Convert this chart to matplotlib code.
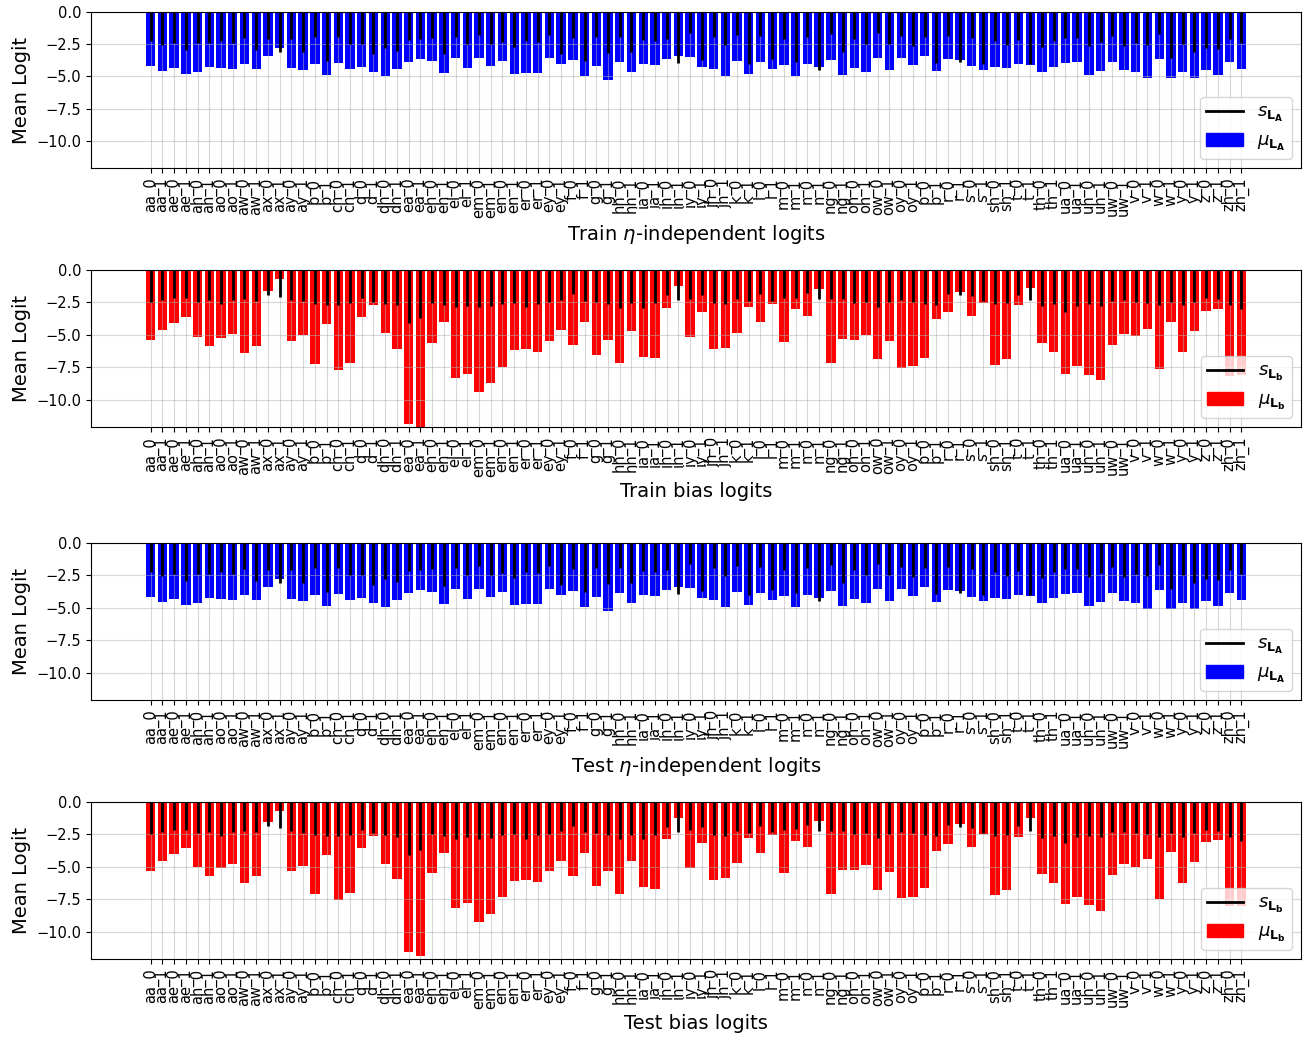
#!/usr/bin/env python3
# plot_logits.py

import matplotlib
matplotlib.use("Agg")
import matplotlib.pyplot as plt
from matplotlib.lines import Line2D
from matplotlib.patches import Patch

phones = ["aa", "ae", "ah", "ao", "aw", "ax", "ay", "b", "ch", "d", "dh", "ea",
          "eh", "el", "em", "en", "er", "ey", "f", "g", "hh", "ia", "ih", "iy",
          "jh", "k", "l", "m", "n", "ng", "oh", "ow", "oy", "p", "r", "s", "sh",
          "t", "th", "ua", "uh", "uw", "v", "w", "y", "z", "zh"]
labels = [p + "_" + k for p in phones for k in ("0", "1")]

# eta-independent logits (train)
train_a_mu = [-4.16, -4.55, -4.34, -4.78, -4.63, -4.24, -4.34, -4.39, -4.01, -4.39,
              -3.39, -2.76, -4.32, -4.47, -4.01, -4.86, -3.93, -4.39, -4.24, -4.63,
              -4.94, -4.39, -3.85, -3.62, -3.77, -4.70, -3.54, -4.32, -3.54, -4.16,
              -3.77, -4.78, -4.70, -4.70, -3.54, -4.01, -3.70, -4.94, -4.16, -5.25,
              -3.85, -4.63, -4.01, -4.08, -3.62, -3.39, -3.46, -4.24, -4.39, -4.94,
              -3.77, -4.78, -3.85, -4.39, -4.08, -4.94, -4.01, -4.24, -3.70, -4.86,
              -4.32, -4.63, -3.54, -4.47, -3.54, -4.08, -3.39, -4.55, -3.62, -3.70,
              -4.16, -4.47, -4.24, -4.32, -4.01, -4.08, -4.63, -4.24, -3.93, -3.85,
              -4.86, -4.55, -3.85, -4.47, -4.63, -5.09, -3.62, -5.09, -4.63, -5.09,
              -4.47, -4.86, -3.85, -4.39]
train_a_s = [2.22, 2.53, 2.38, 2.92, 2.40, 2.38, 2.22, 2.40, 2.02, 2.95,
             2.12, 3.07, 2.07, 3.07, 1.91, 3.77, 1.91, 2.48, 2.45, 3.23,
             2.76, 3.00, 2.14, 2.07, 1.99, 3.28, 1.94, 2.45, 1.78, 2.48,
             2.30, 2.69, 2.22, 2.30, 1.76, 3.23, 2.02, 3.80, 1.91, 3.15,
             1.91, 3.07, 2.17, 2.22, 2.09, 3.93, 1.60, 3.70, 1.94, 2.53,
             1.76, 4.01, 1.83, 3.62, 2.07, 3.85, 1.91, 4.47, 1.73, 3.07,
             2.09, 2.48, 1.60, 2.45, 1.83, 2.61, 1.91, 3.93, 1.83, 3.88,
             2.04, 4.01, 2.22, 2.53, 2.14, 4.01, 2.69, 2.25, 1.99, 1.99,
             2.61, 2.30, 1.83, 2.61, 2.38, 2.53, 1.68, 3.54, 2.48, 3.07,
             2.76, 2.84, 2.07, 2.38]

# bias logits (train)
train_b_mu = [-5.42, -4.65, -4.11, -3.65, -5.19, -5.89, -5.27, -4.96, -6.43, -5.89,
              -1.65, -0.72, -5.50, -5.01, -7.28, -4.19, -7.74, -7.20, -3.65, -2.72,
              -4.88, -6.12, -11.83, -12.10, -5.66, -4.04, -8.35, -8.05, -9.43, -8.74,
              -7.51, -6.20, -6.12, -6.35, -5.50, -4.65, -5.81, -4.04, -6.58, -5.42,
              -7.20, -4.73, -6.74, -6.81, -2.96, -1.26, -5.19, -3.26, -6.12, -6.04,
              -4.88, -2.88, -4.04, -2.65, -5.58, -3.03, -3.57, -1.49, -7.20, -5.35,
              -5.42, -5.01, -6.89, -5.50, -7.58, -7.43, -6.81, -3.80, -3.26, -1.70,
              -3.57, -2.54, -7.35, -6.89, -2.72, -1.41, -5.66, -6.35, -8.05, -7.43,
              -8.12, -8.51, -5.81, -4.96, -5.12, -4.58, -7.66, -4.04, -6.35, -4.73,
              -3.19, -3.03, -8.20, -8.10]
train_b_s = [2.47, 2.34, 2.16, 2.19, 2.47, 2.34, 2.62, 2.34, 2.24, 2.37,
             1.93, 2.08, 2.31, 2.42, 2.65, 2.72, 2.67, 2.57, 2.19, 2.47,
             2.65, 2.72, 4.11, 3.73, 2.54, 2.70, 2.88, 2.75, 2.88, 2.80,
             2.60, 2.52, 2.88, 2.60, 2.49, 2.29, 1.85, 2.37, 2.47, 2.65,
             2.93, 2.57, 2.96, 2.57, 1.95, 2.34, 2.24, 1.95, 2.52, 2.65,
             2.24, 2.42, 1.88, 2.42, 2.19, 2.19, 1.77, 2.26, 2.26, 2.26,
             2.54, 2.47, 2.83, 2.47, 2.31, 2.47, 2.62, 2.67, 1.85, 1.95,
             2.03, 2.42, 2.65, 2.57, 1.90, 2.31, 2.78, 2.65, 3.24, 2.78,
             2.65, 2.80, 2.42, 2.31, 2.44, 2.52, 2.72, 2.47, 2.72, 2.47,
             2.16, 2.24, 2.70, 3.01]

# eta-independent logits (test)
test_a_mu = [-4.16, -4.55, -4.34, -4.78, -4.63, -4.24, -4.34, -4.39, -4.01, -4.39,
             -3.39, -2.76, -4.32, -4.47, -4.01, -4.86, -3.93, -4.39, -4.24, -4.63,
             -4.94, -4.39, -3.85, -3.62, -3.77, -4.70, -3.54, -4.32, -3.54, -4.16,
             -3.77, -4.78, -4.70, -4.70, -3.54, -4.01, -3.70, -4.94, -4.16, -5.25,
             -3.85, -4.63, -4.01, -4.08, -3.62, -3.39, -3.46, -4.24, -4.39, -4.94,
             -3.77, -4.78, -3.85, -4.39, -4.08, -4.94, -4.01, -4.24, -3.70, -4.86,
             -4.32, -4.63, -3.54, -4.47, -3.54, -4.08, -3.39, -4.55, -3.62, -3.70,
             -4.16, -4.47, -4.24, -4.32, -4.01, -4.08, -4.63, -4.24, -3.93, -3.85,
             -4.86, -4.55, -3.85, -4.47, -4.63, -5.09, -3.62, -5.09, -4.63, -5.09,
             -4.47, -4.86, -3.85, -4.39]
test_a_s = [2.22, 2.53, 2.38, 2.92, 2.40, 2.38, 2.22, 2.40, 2.02, 2.95,
            2.12, 3.07, 2.07, 3.07, 1.91, 3.77, 1.91, 2.48, 2.45, 3.23,
            2.76, 3.00, 2.14, 2.07, 1.99, 3.28, 1.94, 2.45, 1.78, 2.48,
            2.30, 2.69, 2.22, 2.30, 1.76, 3.23, 2.02, 3.80, 1.91, 3.15,
            1.91, 3.07, 2.17, 2.22, 2.09, 3.93, 1.60, 3.70, 1.94, 2.53,
            1.76, 4.01, 1.83, 3.62, 2.07, 3.85, 1.91, 4.47, 1.73, 3.07,
            2.09, 2.48, 1.60, 2.45, 1.83, 2.61, 1.91, 3.93, 1.83, 3.88,
            2.04, 4.01, 2.22, 2.53, 2.14, 4.01, 2.69, 2.25, 1.99, 1.99,
            2.61, 2.30, 1.83, 2.61, 2.38, 2.53, 1.68, 3.54, 2.48, 3.07,
            2.76, 2.84, 2.07, 2.38]

# bias logits (test)
test_b_mu = [-5.32, -4.55, -4.04, -3.57, -5.01, -5.73, -5.09, -4.81, -6.27, -5.73,
             -1.57, -0.72, -5.32, -4.96, -7.12, -4.11, -7.58, -7.04, -3.57, -2.65,
             -4.81, -5.96, -11.59, -11.90, -5.50, -3.96, -8.20, -7.81, -9.28, -8.66,
             -7.35, -6.12, -6.04, -6.20, -5.35, -4.58, -5.73, -3.96, -6.50, -5.35,
             -7.12, -4.58, -6.58, -6.74, -2.88, -1.26, -5.12, -3.16, -6.04, -5.89,
             -4.73, -2.80, -3.96, -2.57, -5.50, -3.03, -3.50, -1.49, -7.12, -5.27,
             -5.27, -4.88, -6.81, -5.42, -7.43, -7.35, -6.66, -3.80, -3.26, -1.70,
             -3.50, -2.47, -7.20, -6.81, -2.72, -1.26, -5.58, -6.27, -7.89, -7.35,
             -7.97, -8.43, -5.66, -4.81, -5.01, -4.42, -7.51, -3.88, -6.27, -4.65,
             -3.11, -2.96, -8.00, -8.00]
test_b_s = [2.47, 2.31, 2.13, 2.13, 2.39, 2.31, 2.60, 2.31, 2.21, 2.31,
            1.88, 2.01, 2.26, 2.39, 2.57, 2.62, 2.65, 2.54, 2.13, 2.42,
            2.57, 2.70, 4.09, 3.70, 2.47, 2.62, 2.85, 2.72, 2.85, 2.78,
            2.54, 2.47, 2.83, 2.54, 2.47, 2.26, 1.85, 2.31, 2.39, 2.57,
            2.88, 2.54, 2.88, 2.54, 1.95, 2.31, 2.19, 1.95, 2.52, 2.65,
            2.24, 2.42, 1.88, 2.34, 2.19, 2.11, 1.75, 2.21, 2.26, 2.26,
            2.49, 2.42, 2.80, 2.47, 2.31, 2.42, 2.57, 2.65, 1.80, 1.95,
            2.03, 2.42, 2.65, 2.57, 1.88, 2.26, 2.78, 2.62, 3.16, 2.70,
            2.62, 2.70, 2.34, 2.31, 2.42, 2.47, 2.70, 2.39, 2.70, 2.42,
            2.16, 2.24, 2.70, 3.01]


def plot(ax, mu, s, color, sub, xlabel):
    x = range(len(labels))
    ax.bar(x, mu, width=0.8, color=color)
    ax.vlines(x, [-v for v in s], 0, colors="k", linewidth=2)
    ax.set_xticks(list(x))
    ax.set_xticklabels(labels, rotation=90, fontsize=10.5)
    ax.tick_params(axis="y", labelsize=10.5)
    ax.set_ylim(-12.1, 0)
    ax.set_yticks([0, -2.5, -5, -7.5, -10])
    ax.grid(True, alpha=0.5)
    ax.set_ylabel("Mean Logit", fontsize=14)
    ax.set_xlabel(xlabel, fontsize=14)
    handles = [Line2D([], [], color="k", linewidth=2), Patch(color=color)]
    names = [r"$s_{\mathbf{L_%s}}$" % sub, r"$\mu_{\mathbf{L_%s}}$" % sub]
    ax.legend(handles, names, loc="lower right", fontsize=13,
              labelspacing=0.4, borderpad=0.35)


def main():
    fig = plt.figure(figsize=(13.07, 10.37), dpi=100)
    left, width, h = 0.0696, 0.9258, 0.1514

    ax = fig.add_axes([left, 0.838, width, 0.1504])
    plot(ax, train_a_mu, train_a_s, "b", "A", r"Train $\eta$-independent logits")

    ax = fig.add_axes([left, 0.5882, width, h])
    plot(ax, train_b_mu, train_b_s, "r", "b", "Train bias logits")

    ax = fig.add_axes([left, 0.325, width, h])
    plot(ax, test_a_mu, test_a_s, "b", "A", r"Test $\eta$-independent logits")

    ax = fig.add_axes([left, 0.0752, width, h])
    plot(ax, test_b_mu, test_b_s, "r", "b", "Test bias logits")

    fig.savefig("out.png", dpi=100)


if __name__ == "__main__":
    main()
